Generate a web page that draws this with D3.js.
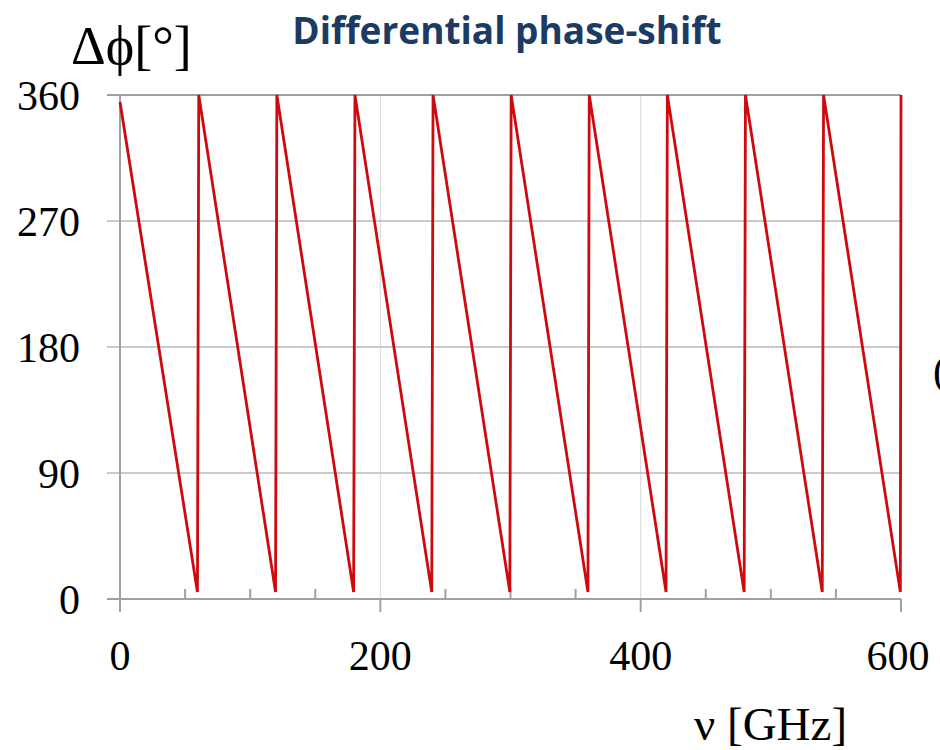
<!DOCTYPE html>
<html>
<head>
<meta charset="utf-8">
<script src="https://cdn.jsdelivr.net/npm/d3@7"></script>
<style>
	body { margin: 0; background: #fff; }
	svg { display: block; }
	.tickText { font-family: "Liberation Serif", "DejaVu Serif", serif; font-size: 42px; fill: #000; }
</style>
</head>
<body>
<div id="container"></div>
<script>
// sawtooth, one period = 60 GHz
var freq  = [0, 59.5, 60.5, 119.5, 120.5, 179.5, 180.5, 239.5, 240.5, 299.5, 300.5,
             359.5, 360.5, 419.5, 420.5, 479.5, 480.5, 539.5, 540.5, 599.5, 600];
var phase = [355, 5, 360, 5, 360, 5, 360, 5, 360, 5, 360,
             5, 360, 5, 360, 5, 360, 5, 360, 5, 360];

var yTicks = [0, 90, 180, 270, 360];
var xTicks = [0, 200, 400, 600];
var xMinor = [50, 100, 150, 250, 300, 350, 450, 500, 550];

var w = 940, h = 750;

var svg = d3.select("#container")
	.append("svg")
	.attr("width", w)
	.attr("height", h);

var x = d3.scaleLinear().domain([0, 600]).range([120, 901]);
var y = d3.scaleLinear().domain([0, 360]).range([599, 95]);

//vertical grid lines
svg.selectAll(".vgrid")
	.data([200, 400])
	.enter()
	.append("line")
	.attr("x1", function(d){ return x(d); })
	.attr("x2", function(d){ return x(d); })
	.attr("y1", y(360))
	.attr("y2", y(0))
	.attr("stroke", "#dcdcdc")
	.attr("stroke-width", 1.2);

//horizontal grid lines, they poke out left of the axis like ticks
svg.selectAll(".hgrid")
	.data(yTicks)
	.enter()
	.append("line")
	.attr("x1", 107)
	.attr("x2", x(600))
	.attr("y1", function(d){ return y(d); })
	.attr("y2", function(d){ return y(d); })
	.attr("stroke", function(d){ return (d === 0 || d === 360) ? "#a0a0a0" : "#b8b8b8"; })
	.attr("stroke-width", function(d){ return (d === 0 || d === 360) ? 2 : 1.3; });

//left axis line
svg.append("line")
	.attr("x1", x(0)).attr("x2", x(0))
	.attr("y1", y(360)).attr("y2", y(0) + 13)
	.attr("stroke", "#a0a0a0")
	.attr("stroke-width", 2);

//x ticks: major go down, minor go up
svg.selectAll(".xmajor")
	.data(xTicks)
	.enter()
	.append("line")
	.attr("x1", function(d){ return x(d); })
	.attr("x2", function(d){ return x(d); })
	.attr("y1", y(0))
	.attr("y2", y(0) + 13)
	.attr("stroke", "#a0a0a0")
	.attr("stroke-width", 2);

svg.selectAll(".xminor")
	.data(xMinor)
	.enter()
	.append("line")
	.attr("x1", function(d){ return x(d); })
	.attr("x2", function(d){ return x(d); })
	.attr("y1", y(0))
	.attr("y2", y(0) - 10)
	.attr("stroke", "#a0a0a0")
	.attr("stroke-width", 2);

//the curve
var line = d3.line()
	.x(function(d, i){ return x(freq[i]); })
	.y(function(d, i){ return y(phase[i]); });

svg.append("path")
	.datum(freq)
	.attr("d", line)
	.attr("fill", "none")
	.attr("stroke", "#cc0a10")
	.attr("stroke-width", 2.8)
	.attr("stroke-linejoin", "miter");

//tick labels
svg.selectAll(".ylab")
	.data(yTicks)
	.enter()
	.append("text")
	.text(function(d){ return d; })
	.attr("class", "tickText")
	.attr("text-anchor", "end")
	.attr("x", 80)
	.attr("y", function(d){ return y(d) + 15; });

svg.selectAll(".xlab")
	.data(xTicks)
	.enter()
	.append("text")
	.text(function(d){ return d; })
	.attr("class", "tickText")
	.attr("text-anchor", "middle")
	.attr("x", function(d){ return x(d) - (d === 600 ? 3 : 0); })
	.attr("y", 670);

//axis titles
svg.append("text")
	.text("\u0394\u03d5[\u00b0]")
	.attr("x", 71)
	.attr("y", 64)
	.style("font-family", "'Liberation Serif', 'DejaVu Serif', serif")
	.style("font-size", "54px");

svg.append("text")
	.text("\u03bd [GHz]")
	.attr("x", 694)
	.attr("y", 740)
	.style("font-family", "'Liberation Serif', 'DejaVu Serif', serif")
	.style("font-size", "47px");

//chart title
svg.append("text")
	.text("Differential phase-shift")
	.attr("text-anchor", "middle")
	.attr("x", 507)
	.attr("y", 44)
	.style("font-family", "'Open Sans', 'Noto Sans', sans-serif")
	.style("font-weight", "bold")
	.style("font-size", "37px")
	.style("fill", "#1b3a64");

//bit of the next panel's label, cut off by the edge
svg.append("text")
	.text("(")
	.attr("x", 933)
	.attr("y", 385)
	.style("font-family", "'Liberation Serif', serif")
	.style("font-size", "42px");
</script>
</body>
</html>
